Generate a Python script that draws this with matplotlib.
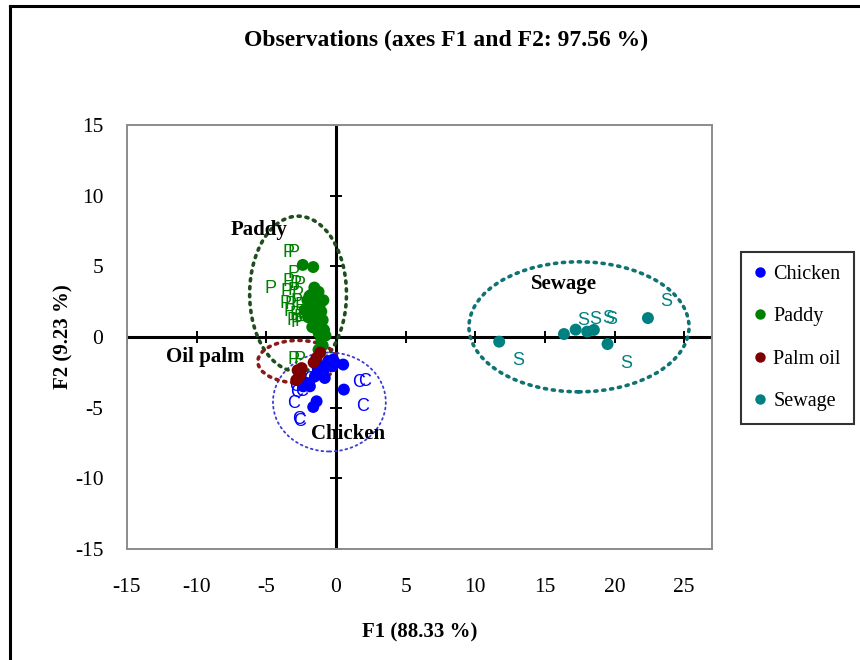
import matplotlib
matplotlib.use("Agg")
import matplotlib.pyplot as plt
from matplotlib.patches import Ellipse
from matplotlib.lines import Line2D

# ---- data -------------------------------------------------------------
groups = ["Chicken", "Paddy", "Palm oil", "Sewage"]
colors = ["#0000ff", "#008000", "#800000", "#008080"]

chicken_f1 = [-0.55, -0.07, 0.52, -0.31, -1.15, -0.91, -1.51, -1.87, 0.57, -1.39, -1.63, -2.10, -2.35, -0.2, -1.3, -0.8]
chicken_f2 = [-1.72, -1.83, -1.95, -2.07, -2.07, -2.42, -2.78, -3.49, -3.72, -4.55, -4.95, -3.25, -3.49, -1.6, -2.3, -2.9]

paddy_f1 = [-2.38, -1.63, -1.55, -1.25, -1.75, -1.35, -2.05, -1.55, -1.15, -1.85, -1.45, -1.05,
            -2.25, -1.65, -1.25, -0.95, -1.45, -1.05, -0.85, -1.25, -0.75, -1.05, -0.95, -1.25,
            -2.0, -1.9, -0.9, -1.7]
paddy_f2 = [5.1, 4.95, 3.5, 3.2, 3.0, 2.8, 2.6, 2.5, 2.3, 2.2, 2.0, 1.8,
            1.9, 1.6, 1.4, 1.2, 1.0, 0.8, 0.5, 0.3, 0.1, -0.2, -0.6, -0.9,
            1.4, 2.9, 2.6, 0.7]

palm_f1 = [-1.39, -1.13, -2.58, -2.70, -2.46, -2.85, -2.55, -1.6, -2.75]
palm_f2 = [-1.48, -1.10, -2.50, -2.90, -2.20, -3.05, -2.70, -1.8, -2.35]

sewage_f1 = [11.72, 16.37, 17.21, 18.04, 18.52, 19.50, 22.40]
sewage_f2 = [-0.33, 0.21, 0.52, 0.38, 0.50, -0.50, 1.34]

# observation labels
chicken_lab_f1 = [1.60, 2.07, 1.91, -3.06, -2.82, -2.46, -2.70, -2.58, -2.93, -1.87]
chicken_lab_f2 = [-3.25, -3.13, -4.90, -4.67, -3.96, -3.84, -5.85, -6.00, -3.49, -3.00]
paddy_lab_f1 = [-3.43, -3.03, -3.08, -4.68, -3.43, -2.93, -2.63, -3.53, -3.03, -2.73, -3.63, -3.23,
                -2.83, -2.53, -3.33, -2.93, -2.63, -3.13, -2.83, -2.53, -2.33, -3.03, -2.63]
paddy_lab_f2 = [6.0, 6.0, 4.5, 3.4, 3.9, 3.8, 3.7, 3.2, 3.3, 3.0, 2.4, 2.3,
                2.5, 2.2, 1.8, 1.6, 1.4, 1.2, 1.0, 1.1, 1.6, -1.6, -1.6]
sewage_lab_f1 = [13.09, 17.75, 18.64, 19.55, 19.74, 20.87, 23.74]
sewage_lab_f2 = [-1.63, 1.15, 1.27, 1.32, 1.24, -1.86, 2.50]

# confidence ellipses: centre F1, centre F2, width, height
ell_center_f1 = [-0.47, -2.72, -2.73, 17.45]
ell_center_f2 = [-4.60, 3.05, -1.74, 0.72]
ell_width = [8.1, 6.95, 5.75, 15.8]
ell_height = [7.0, 11.0, 3.0, 9.2]
ell_colors = ["#3b3bd6", "#1e4d1e", "#8b1a1a", "#0f7373"]
ell_lw = [1.3, 2.6, 2.6, 2.6]

group_names = ["Chicken", "Paddy", "Oil palm", "Sewage"]
name_f1 = [0.9, -5.5, -9.4, 16.4]
name_f2 = [-6.85, 7.6, -1.42, 3.75]

xticks = [-15, -10, -5, 0, 5, 10, 15, 20, 25]
yticks = [-15, -10, -5, 0, 5, 10, 15]
xlim = (-15, 27)
ylim = (-15, 15)

# ---- figure -----------------------------------------------------------
serif = ["Liberation Serif", "DejaVu Serif"]
sans = ["Liberation Sans", "DejaVu Sans"]
plt.rcParams["font.family"] = serif

fig = plt.figure(figsize=(8.6, 6.6), dpi=100)
ax = fig.add_axes([127 / 860, 111 / 660, 585 / 860, 424 / 660])
ax.set_xlim(*xlim)
ax.set_ylim(*ylim)

for sp in ax.spines.values():
    sp.set_color("#8c8c8c")
    sp.set_linewidth(1.4)

ax.set_xticks(xticks)
ax.set_yticks(yticks)
ax.set_xticklabels([str(t) for t in xticks])
ax.set_yticklabels([str(t) for t in yticks])
ax.tick_params(axis="both", length=0, labelsize=15.5)
ax.tick_params(axis="x", pad=21)
ax.tick_params(axis="y", pad=17)

# central axes through the origin with their own tick marks
ax.axhline(0, color="black", lw=2.2, zorder=2)
ax.axvline(0, color="black", lw=2.2, zorder=2)
ax.plot(xticks, [0] * len(xticks), ls="none", marker="|", ms=8, mew=1.4, color="black", zorder=2)
ax.plot([0] * len(yticks), yticks, ls="none", marker="_", ms=8, mew=1.4, color="black", zorder=2)

# ellipses
for cx, cy, w, h, c, lw in zip(ell_center_f1, ell_center_f2, ell_width, ell_height, ell_colors, ell_lw):
    e = Ellipse((cx, cy), w, h, fill=False, edgecolor=c, lw=lw,
                linestyle=(0, (0.6, 1.6)) if lw > 2 else (0, (1, 2)), zorder=3)
    e.set_capstyle("round")
    ax.add_patch(e)

# observation labels
lab_sets = [(chicken_lab_f1, chicken_lab_f2, "C", colors[0]),
            (paddy_lab_f1, paddy_lab_f2, "P", colors[1]),
            (sewage_lab_f1, sewage_lab_f2, "S", colors[3])]
for xs, ys, letter, c in lab_sets:
    for x, y in zip(xs, ys):
        ax.text(x, y, letter, color=c, fontsize=13, family=sans,
                ha="center", va="center", zorder=4)

# observation points
series = [(chicken_f1, chicken_f2), (paddy_f1, paddy_f2), (palm_f1, palm_f2), (sewage_f1, sewage_f2)]
for (xs, ys), c, g in zip(series, colors, groups):
    ax.scatter(xs, ys, s=74, color=c, edgecolors="none", zorder=5, label=g)

# group names
for n, x, y in zip(group_names, name_f1, name_f2):
    ax.text(x, y, n, fontsize=15, fontweight="bold", ha="center", va="center", zorder=6)

ax.set_xlabel("F1 (88.33 %)", fontsize=15, fontweight="bold", labelpad=18)
ax.set_ylabel("F2 (9.23 %)", fontsize=15, fontweight="bold", labelpad=1)

fig.text(0.519, 0.939, "Observations (axes F1 and F2: 97.56 %)",
         fontsize=17, fontweight="bold", ha="center", va="center")

# legend
handles = [Line2D([], [], ls="none", marker="o", ms=7.5, color=c, mec="none") for c in colors]
leg = fig.legend(handles, groups, loc="upper left",
                 bbox_to_anchor=(741 / 860, 1 - 252 / 660), fontsize=14.5,
                 frameon=True, fancybox=False, edgecolor="black",
                 labelspacing=1.15, handlelength=0.6, handletextpad=0.35,
                 borderpad=0.65, borderaxespad=0)
leg.get_frame().set_linewidth(1.5)

# outer border
fig.add_artist(Line2D([10 / 860, 10 / 860], [0, 1 - 6 / 660], color="black", lw=2.2,
                      transform=fig.transFigure))
fig.add_artist(Line2D([10 / 860, 1], [1 - 6 / 660, 1 - 6 / 660], color="black", lw=2.2,
                      transform=fig.transFigure))

fig.savefig("out.png", dpi=100)
